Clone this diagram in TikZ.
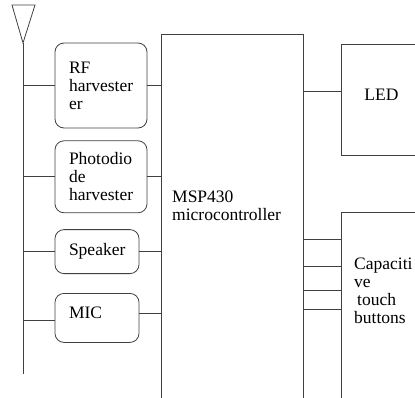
\documentclass[tikz,border=0pt]{standalone}
\usepackage{fontspec}
\setmainfont{Liberation Serif}
\usetikzlibrary{positioning}

\begin{document}
\begin{tikzpicture}[
    x=1pt, y=-1pt,
    wire/.style={draw=black!75, line width=0.8pt},
    part/.style={rectangle, rounded corners=9pt, wire, align=left, inner xsep=14pt, font=\fontsize{17.5}{18}\selectfont},
    block/.style={rectangle, wire, align=left, font=\fontsize{17.5}{18}\selectfont},
    caption/.style={inner sep=0pt, anchor=west, align=left, font=\fontsize{17.5}{18}\selectfont}
]
    \useasboundingbox (0,0) rectangle (415,397);
    \clip (0,0) rectangle (415,397);

    % antenna
    \coordinate (tip) at (23,43);
    \coordinate (foot) at (23,374);
    \draw[wire] (12,5) -- (35,5) -- (tip) -- cycle;
    \draw[wire] (tip) -- (foot);

    % sources
    \node[part, text width=64pt, minimum height=85pt] (rf) at (101,85.5) {RF\\harvester\\er};
    \node[part, text width=64pt, minimum height=72pt, below=12pt of rf] (photo) {Photodio\\de\\harvester};
    \node[part, text width=56pt, minimum height=44pt, below right=16pt and 0pt of photo.south west] (speaker) {Speaker};
    \node[part, text width=56pt, minimum height=49pt, below right=19pt and 0pt of speaker.south west, text depth=11pt] (mic) {MIC};

    % controller
    \node[block, minimum width=142pt, minimum height=400pt, anchor=north west] (msp) at (161,34) {};
    \node[caption] (msptext) at (172,206) {MSP430\\microcontroller};

    % outputs
    \node[block, text width=40pt, inner xsep=23pt, minimum height=111pt, anchor=north west, text depth=10pt] (led) at (341,44) {LED};
    \node[block, minimum width=100pt, minimum height=220pt, anchor=north west] (cap) at (341,212) {};
    \node[caption] (captext) at (354,291) {Capaciti\\ve\\\hspace*{3pt}touch\\buttons};

    % wiring
    \draw[wire] (rf.west -| tip) -- (rf.west);
    \draw[wire] (photo.west -| tip) -- (photo.west);
    \draw[wire] (speaker.west -| tip) -- (speaker.west);
    \draw[wire] ([yshift=-2pt]mic.west -| tip) -- ([yshift=-2pt]mic.west);
    \draw[wire] (rf.east) -- (rf.east -| msp.west);
    \draw[wire] (photo.east) -- (photo.east -| msp.west);
    \draw[wire] (speaker.east) -- (speaker.east -| msp.west);
    \draw[wire] ([yshift=5pt]mic.east) -- ([yshift=5pt]mic.east -| msp.west);
    \draw[wire] ([yshift=8.5pt]led.west) -- ([yshift=8.5pt]led.west -| msp.east);
    \foreach \ty in {239,266,290,309} {
        \coordinate (tap) at (0,\ty);
        \draw[wire] (msp.east |- tap) -- (cap.west |- tap);
    }
\end{tikzpicture}
\end{document}
